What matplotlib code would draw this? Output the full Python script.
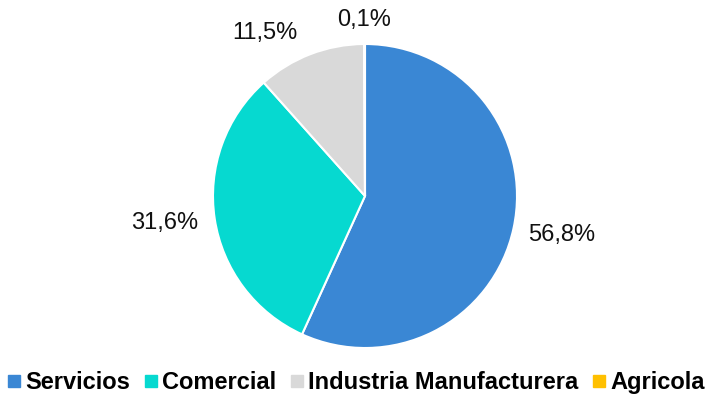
import matplotlib.pyplot as plt
from matplotlib.lines import Line2D

categories = ['Servicios', 'Comercial', 'Industria Manufacturera', 'Agricola']
values = [56.8, 31.6, 11.5, 0.1]
labels = ['56,8%', '31,6%', '11,5%', '0,1%']
colors = ['#3A87D4', '#06D9D0', '#D9D9D9', '#FFC000']

# label positions in pie-radius units (Excel style placement)
label_pos = [(1.296, -0.257), (-1.316, -0.178), (-0.658, 1.072), (-0.007, 1.158)]

plt.rcParams['font.family'] = ['Liberation Sans', 'DejaVu Sans']

fig = plt.figure(figsize=(7.08, 3.96), dpi=100)
cx, cy, r = 365, 200, 152
ax = fig.add_axes([(cx - r) / 708, (cy - r) / 396, 2 * r / 708, 2 * r / 396])
ax.pie(values, colors=colors, startangle=90, counterclock=False, radius=1,
       wedgeprops=dict(edgecolor='white', linewidth=1.5))
ax.set_xlim(-1, 1)
ax.set_ylim(-1, 1)
ax.set_aspect('equal')
ax.axis('off')

for lab, (x, y) in zip(labels, label_pos):
    ax.text(x, y, lab, ha='center', va='center', fontsize=17, color='#111111', clip_on=False)

handles = [Line2D([], [], marker='s', linestyle='none', markersize=9,
                  markerfacecolor=c, markeredgecolor=c) for c in colors]
fig.legend(handles, categories, loc='center', bbox_to_anchor=(0.503, 0.033), ncol=4,
           frameon=False, handlelength=0.55, handletextpad=0.2, columnspacing=0.6,
           prop=dict(weight='bold', size=17), borderaxespad=0, borderpad=0)

fig.savefig('out.png', dpi=100)
